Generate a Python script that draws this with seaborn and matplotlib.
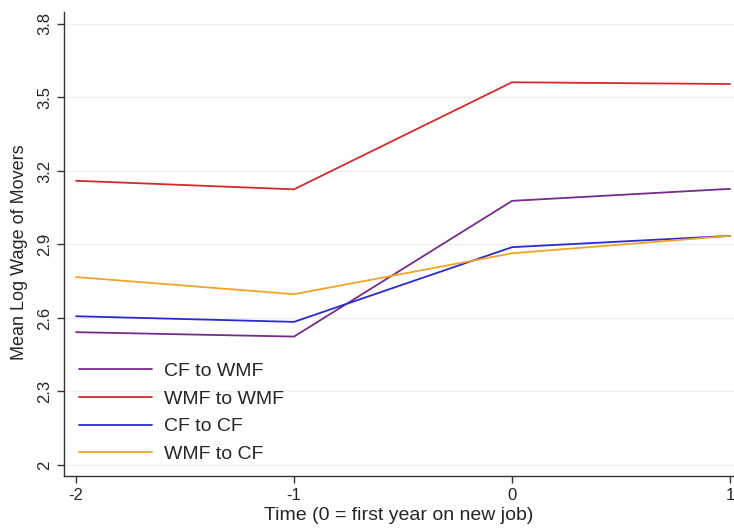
import numpy as np
import pandas as pd
import seaborn as sns
import matplotlib.pyplot as plt

time = [-2, -1, 0, 1]
cf_to_wmf = [2.542, 2.524, 3.078, 3.127]
wmf_to_wmf = [3.160, 3.125, 3.562, 3.555]
cf_to_cf = [2.607, 2.584, 2.889, 2.935]
wmf_to_cf = [2.767, 2.697, 2.864, 2.935]

groups = ["CF to WMF", "WMF to WMF", "CF to CF", "WMF to CF"]
colors = ["#7a2a8c", "#d42a2a", "#2a2ad0", "#f0a428"]
yticks = [2, 2.3, 2.6, 2.9, 3.2, 3.5, 3.8]

df = pd.DataFrame({
    "Time": time * 4,
    "Wage": cf_to_wmf + wmf_to_wmf + cf_to_cf + wmf_to_cf,
    "Group": np.repeat(groups, len(time)),
})

sns.set_style("white")
plt.rcParams["font.family"] = ["Liberation Sans", "DejaVu Sans"]

fig = plt.figure(figsize=(7.34, 5.32), dpi=100)
ax = fig.add_axes([0.0872, 0.1053, 0.9128, 0.8722])

sns.lineplot(data=df, x="Time", y="Wage", hue="Group", hue_order=groups,
             palette=colors, linewidth=1.3, ax=ax)

ax.set_xlim(-2.055, 1.018)
ax.set_ylim(1.955, 3.849)
ax.set_xticks(time)
ax.set_xticklabels([str(t) for t in time], fontsize=12)
ax.set_yticks(yticks)
ax.set_yticklabels([str(v) for v in yticks], fontsize=12, rotation=90, va="center")
ax.tick_params(axis="both", direction="out", length=5, width=1, color="#333333",
               left=True, bottom=True)
for y in yticks:
    ax.axhline(y, color="#eeeeee", linewidth=1, zorder=0)

ax.set_xlabel("Time (0 = first year on new job)", fontsize=14, labelpad=3)
ax.set_ylabel("Mean Log Wage of Movers", fontsize=13)
ax.yaxis.set_label_coords(-0.054, 0.483)

for s in ["top", "right"]:
    ax.spines[s].set_visible(False)
for s in ["left", "bottom"]:
    ax.spines[s].set_color("#333333")
    ax.spines[s].set_linewidth(1)

ax.legend(loc="lower left", frameon=False, fontsize=14, handlelength=3.75,
          handletextpad=0.6, labelspacing=0.52, borderaxespad=0,
          bbox_to_anchor=(0.011, 0.011))

fig.savefig("out.png", dpi=100)
